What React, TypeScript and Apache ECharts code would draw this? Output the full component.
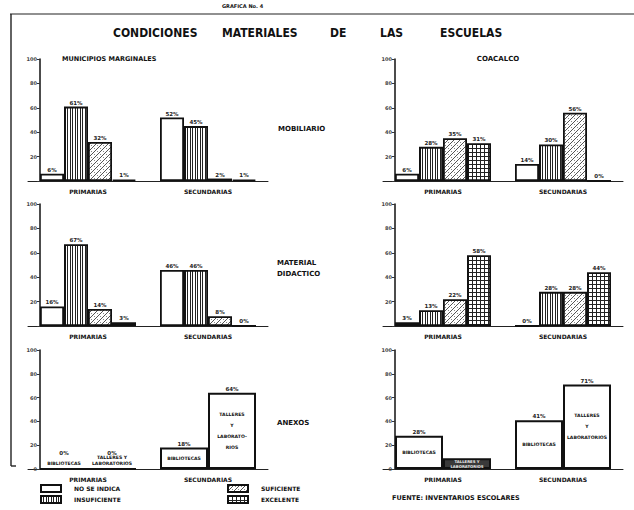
import React, { useEffect, useRef } from 'react';
import * as echarts from 'echarts';

// ---------- DATA ----------
const categories = ['PRIMARIAS', 'SECUNDARIAS'];
const levels = ['NO SE INDICA', 'INSUFICIENTE', 'SUFICIENTE', 'EXCELENTE'];
const yTicks = [0, 20, 40, 60, 80, 100];

// MOBILIARIO – Municipios marginales
const mobMargNoIndica = [6, 52];
const mobMargInsuf = [61, 45];
const mobMargSuf = [32, 2];
const mobMargExc = [1, 1];
// MOBILIARIO – Coacalco
const mobCoaNoIndica = [6, 14];
const mobCoaInsuf = [28, 30];
const mobCoaSuf = [35, 56];
const mobCoaExc = [31, 0];
// MATERIAL DIDACTICO – Municipios marginales
const matMargNoIndica = [16, 46];
const matMargInsuf = [67, 46];
const matMargSuf = [14, 8];
const matMargExc = [3, 0];
// MATERIAL DIDACTICO – Coacalco
const matCoaNoIndica = [3, 0];
const matCoaInsuf = [13, 28];
const matCoaSuf = [22, 28];
const matCoaExc = [58, 44];
// ANEXOS
const anexMargBibliotecas = [0, 18];
const anexMargTalleres = [0, 64];
const anexCoaBibliotecas = [28, 41];
const anexCoaTalleres = [9, 71];
const anexMargBibNames = ['BIBLIOTECAS', 'BIBLIOTECAS'];
const anexMargTalNames = ['TALLERES Y\nLABORATORIOS', 'TALLERES\nY\nLABORATO-\nRIOS'];
const anexCoaBibNames = ['BIBLIOTECAS', 'BIBLIOTECAS'];
const anexCoaTalNames = ['TALLERES Y\nLABORATORIOS', 'TALLERES\nY\nLABORATORIOS'];

const rowLabels = [['MOBILIARIO'], ['MATERIAL', 'DIDACTICO'], ['ANEXOS']];
const titleWords = ['CONDICIONES', 'MATERIALES', 'DE', 'LAS', 'ESCUELAS'];

// ---------- STYLE / LAYOUT ----------
const FONT = '"DejaVu Sans", sans-serif';
const colLeft = [28, 383];
const colWidth = 240;
const rowTop = [59, 204, 350];
const rowHeight = [122, 122, 119];

function makePattern(kind: string) {
  const size = kind === 'insuf' ? 5 : kind === 'exc' ? 4 : 6;
  const c = document.createElement('canvas');
  c.width = size;
  c.height = size;
  const g = c.getContext('2d')!;
  g.fillStyle = '#ffffff';
  g.fillRect(0, 0, size, size);
  g.fillStyle = '#222';
  if (kind === 'insuf') {
    g.fillRect(0, 0, 1, size);
    g.fillRect(2, 0, 1, size);
  } else if (kind === 'exc') {
    g.fillRect(0, 0, size, 1);
    g.fillRect(0, 0, 1, size);
  } else if (kind === 'suf') {
    g.fillStyle = '#555';
    for (let i = 0; i < size; i++) g.fillRect(i, size - 1 - i, 1, 1);
    g.fillStyle = '#888';
    g.fillRect(1, 1, 1, 1);
    g.fillRect(4, 4, 1, 1);
  }
  return { image: c, repeat: 'repeat', imageWidth: size, imageHeight: size } as any;
}

export default function App() {
  const ref = useRef<HTMLDivElement>(null);
  useEffect(() => {
    if (!ref.current) return;
    const chart = echarts.init(ref.current, null, { renderer: 'svg' });

    const fills = ['#ffffff', makePattern('insuf'), makePattern('suf'), makePattern('exc')];

    const levelPanels = [
      { row: 0, col: 0, data: [mobMargNoIndica, mobMargInsuf, mobMargSuf, mobMargExc] },
      { row: 0, col: 1, data: [mobCoaNoIndica, mobCoaInsuf, mobCoaSuf, mobCoaExc] },
      { row: 1, col: 0, data: [matMargNoIndica, matMargInsuf, matMargSuf, matMargExc] },
      { row: 1, col: 1, data: [matCoaNoIndica, matCoaInsuf, matCoaSuf, matCoaExc] },
    ];
    const anexPanels = [
      { row: 2, col: 0, bib: anexMargBibliotecas, tal: anexMargTalleres, bibN: anexMargBibNames, talN: anexMargTalNames, dark: -1 },
      { row: 2, col: 1, bib: anexCoaBibliotecas, tal: anexCoaTalleres, bibN: anexCoaBibNames, talN: anexCoaTalNames, dark: 0 },
    ];
    const allPanels = [...levelPanels.map((p) => ({ row: p.row, col: p.col })), ...anexPanels.map((p) => ({ row: p.row, col: p.col }))];

    const grid = allPanels.map((p) => ({
      left: colLeft[p.col],
      top: rowTop[p.row],
      width: colWidth,
      height: rowHeight[p.row],
    }));
    const xAxis = allPanels.map((p, i) => ({
      type: 'category',
      gridIndex: i,
      data: categories,
      axisLine: { lineStyle: { color: '#222', width: 1 } },
      axisTick: { show: false },
      axisLabel: { fontSize: 6, fontWeight: 'bold', color: '#111', fontFamily: FONT, margin: 7 },
    }));
    const yAxis = allPanels.map((p, i) => ({
      type: 'value',
      gridIndex: i,
      min: yTicks[0],
      max: yTicks[yTicks.length - 1],
      interval: yTicks[1] - yTicks[0],
      offset: -12,
      axisLine: { show: true, lineStyle: { color: '#111', width: 1.5 } },
      axisTick: { show: true, length: 3, lineStyle: { color: '#333' } },
      splitLine: { show: false },
      axisLabel: {
        fontSize: 5,
        fontWeight: 'bold',
        color: '#444',
        fontFamily: FONT,
        margin: 3,
        formatter: (v: number) => (v === 0 ? (p.row === 2 ? '0' : '') : String(v)),
      },
    }));

    const series: any[] = [];
    levelPanels.forEach((p, pi) => {
      p.data.forEach((vals, k) => {
        series.push({
          type: 'bar',
          name: levels[k],
          xAxisIndex: pi,
          yAxisIndex: pi,
          data: vals,
          barGap: '0%',
          barCategoryGap: '20%',
          itemStyle: { color: fills[k], borderColor: '#111', borderWidth: 1.8 },
          label: {
            show: true,
            position: 'top',
            distance: 1,
            fontSize: 5.5,
            fontWeight: 'bold',
            color: '#222',
            fontFamily: FONT,
            formatter: '{c}%',
          },
        });
      });
    });

    anexPanels.forEach((p, j) => {
      const idx = levelPanels.length + j;
      const groups = [
        { key: 'b', name: 'BIBLIOTECAS', vals: p.bib, names: p.bibN },
        { key: 't', name: 'TALLERES Y LABORATORIOS', vals: p.tal, names: p.talN },
      ];
      groups.forEach((gr) => {
        const isDarkItem = (i: number) => gr.key === 't' && i === p.dark;
        series.push({
          type: 'bar',
          name: gr.name,
          stack: gr.key + idx,
          xAxisIndex: idx,
          yAxisIndex: idx,
          barGap: '0%',
          barCategoryGap: '20%',
          data: gr.vals.map((v, i) => ({
            value: v,
            itemStyle: isDarkItem(i) ? { color: '#3a3a3a' } : undefined,
            label:
              v === 0
                ? { position: 'top', distance: 2, lineHeight: 6 }
                : isDarkItem(i)
                ? { color: '#eee', fontSize: 3.8, lineHeight: 5 }
                : undefined,
          })),
          itemStyle: { color: '#ffffff', borderColor: '#111', borderWidth: 2 },
          label: {
            show: true,
            position: 'inside',
            fontSize: 4.6,
            fontWeight: 'bold',
            color: '#111',
            fontFamily: FONT,
            lineHeight: 11,
            formatter: (prm: any) => gr.names[prm.dataIndex],
          },
        });
        series.push({
          type: 'bar',
          name: gr.name + ' %',
          stack: gr.key + idx,
          xAxisIndex: idx,
          yAxisIndex: idx,
          barGap: '0%',
          barCategoryGap: '20%',
          data: gr.vals.map((v, i) => ({
            value: 0,
            label: { show: !isDarkItem(i), distance: v === 0 ? 13 : 1 },
          })),
          itemStyle: { color: 'rgba(0,0,0,0)', borderWidth: 0 },
          label: {
            show: true,
            position: 'top',
            fontSize: 5.5,
            fontWeight: 'bold',
            color: '#222',
            fontFamily: FONT,
            formatter: (prm: any) => gr.vals[prm.dataIndex] + '%',
          },
        });
      });
    });

    const legendCommon = {
      orient: 'vertical',
      itemWidth: 20,
      itemHeight: 7,
      itemGap: 2,
      padding: 0,
      height: 24,
      icon: 'rect',
      selectedMode: false,
      textStyle: { fontSize: 6, fontWeight: 'bold', color: '#111', fontFamily: FONT, padding: [0, 0, 0, 8] },
    };

    const txt = (text: string, x: number, y: number, size: number, extra: any = {}) => ({
      type: 'text',
      x,
      y,
      silent: true,
      style: {
        text,
        fill: '#111',
        fontSize: size,
        fontWeight: 'bold',
        fontFamily: FONT,
        align: 'left',
        verticalAlign: 'middle',
        ...extra,
      },
    });

    const titleX = [113, 222, 330, 380, 440];
    const graphic: any[] = [
      { type: 'line', silent: true, shape: { x1: 10, y1: 14, x2: 634, y2: 14 }, style: { stroke: '#222', lineWidth: 1.2 } },
      { type: 'line', silent: true, shape: { x1: 11, y1: 14, x2: 11, y2: 466 }, style: { stroke: '#222', lineWidth: 1.4 } },
      { type: 'line', silent: true, shape: { x1: 11, y1: 466, x2: 16, y2: 466 }, style: { stroke: '#222', lineWidth: 1.4 } },
      txt('GRAFICA No. 4', 222, 6, 5),
      ...titleWords.map((w, i) =>
        txt(w, titleX[i], 33, 12, { fontFamily: '"DejaVu Sans Condensed", "DejaVu Sans", sans-serif' })
      ),
      txt('MUNICIPIOS MARGINALES', 62, 59, 6.5),
      txt('COACALCO', 498, 59, 7, { align: 'center' }),
      txt(rowLabels[0][0], 278, 129, 7),
      txt(rowLabels[1][0], 277, 263, 7),
      txt(rowLabels[1][1], 277, 274, 7),
      txt(rowLabels[2][0], 277, 423, 7),
      txt('FUENTE: INVENTARIOS ESCOLARES', 392, 498, 6.5),
    ];

    chart.setOption({
      animation: false,
      backgroundColor: '#ffffff',
      grid,
      xAxis,
      yAxis,
      series,
      legend: [
        { ...legendCommon, data: ['NO SE INDICA', 'INSUFICIENTE'], left: 40, top: 484 },
        { ...legendCommon, data: ['SUFICIENTE', 'EXCELENTE'], left: 227, top: 484 },
      ],
      graphic,
    });
    return () => chart.dispose();
  }, []);
  return <div ref={ref} style={{ position: 'fixed', left: 0, top: 0, width: 634, height: 510 }} />;
}
